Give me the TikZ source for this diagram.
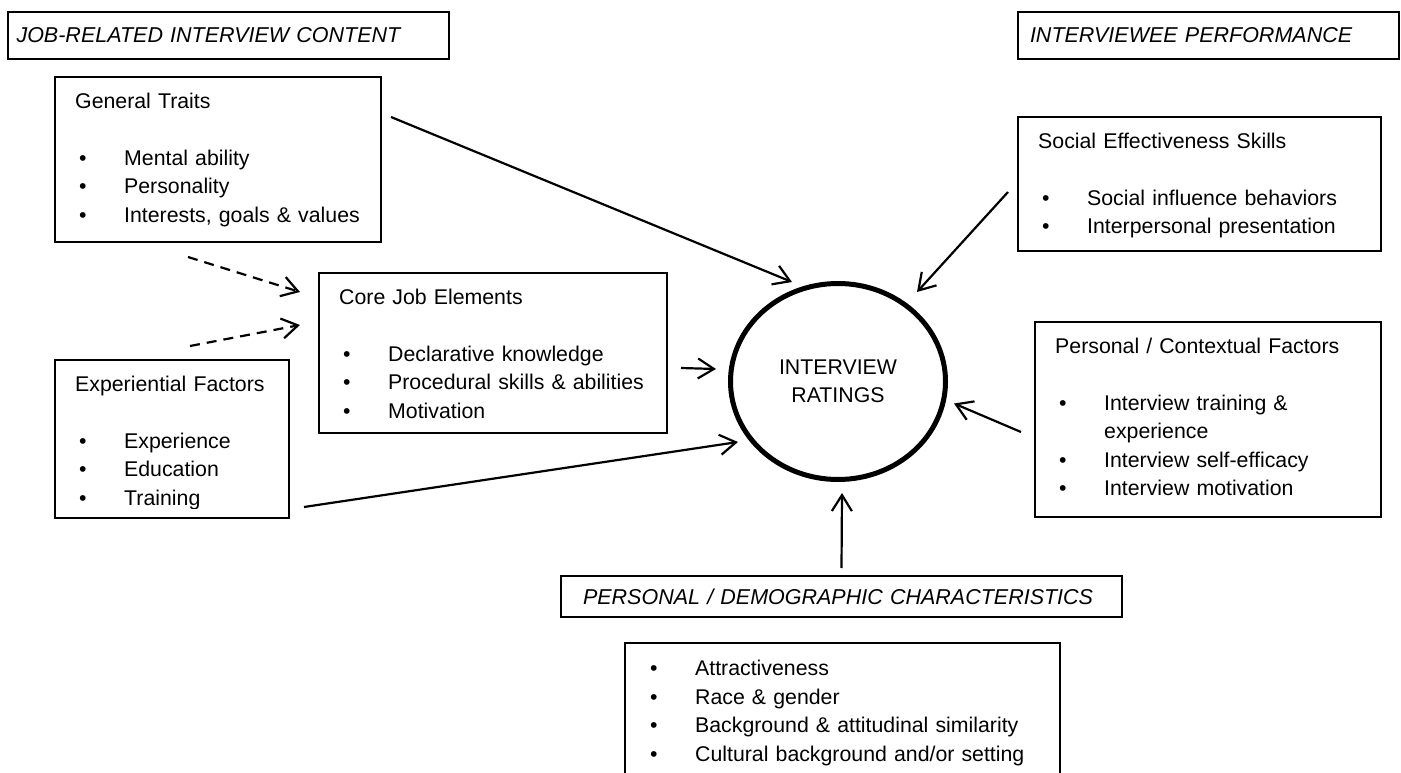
\documentclass[tikz,border=0pt]{standalone}
\usepackage{fontspec}
\setmainfont{Liberation Sans}
\usepackage{tikz}
\usetikzlibrary{arrows.meta}
\usetikzlibrary{shapes.geometric}
\tikzset{>={Straight Barb[length=16pt,width=20pt]}}
\newcommand\bul[1]{\makebox[49pt][l]{\hspace{4pt}\textbullet}#1}

\begin{document}
\begin{tikzpicture}[x=1pt, y=-1pt,
  every node/.style={font=\fontsize{21.3pt}{28.5pt}\selectfont},
  box/.style={draw, line width=\BOXLINE, rectangle, anchor=north west, inner sep=0pt, outer sep=0pt},
  hdr/.style={box, align=left, inner ysep=0pt, minimum height=47pt,
    font=\fontsize{21.5pt}{28.5pt}\selectfont\itshape},
  itemtext/.style={anchor=north west, inner sep=0pt, align=left, text width=#1},
  conn/.style={->, line width=\ARROWLINE},
  dconn/.style={conn, dash pattern=on 10pt off 7pt},
  rating/.style={ellipse, draw, line width=5pt, minimum width=215pt, minimum height=196pt,
    inner sep=0pt, align=center}]

\newcommand\BOXLINE{1.2pt}
\newcommand\ARROWLINE{2.2pt}

\clip (0,0) rectangle (1401,773);

%% headings
\node[hdr, inner xsep=8.5pt, text width=424pt] (jobhdr) at (8,12) {JOB-RELATED INTERVIEW CONTENT};
\node[hdr, inner xsep=12pt, text width=357pt] (perfhdr) at (1018,12) {INTERVIEWEE PERFORMANCE};
\node[hdr, inner xsep=22pt, text width=517pt, minimum height=41pt] (demohdr) at (561,576)
{PERSONAL / DEMOGRAPHIC CHARACTERISTICS};

%% general traits
\node[box, minimum width=326pt, minimum height=165pt] (traits) at (55,77) {};
\node[itemtext=300pt] (traits-txt) at ([shift={(20,11)}]traits.north west)
{\strut General Traits\\[28.5pt]
\bul{Mental ability}\\
\bul{Personality}\\
\bul{Interests, goals \& values}};

%% experiential factors (last line cut off by the text frame)
\node[box, minimum width=234pt, minimum height=158pt] (expf) at (55,360) {};
\begin{scope}
\clip (expf.north west) rectangle ([shift={(0,-10)}]expf.south east);
\node[itemtext=210pt] (expf-txt) at ([shift={(20,11)}]expf.north west)
{\strut Experiential Factors\\[28.5pt]
\bul{Experience}\\
\bul{Education}\\
\bul{Training}};
\end{scope}

%% core job elements
\node[box, minimum width=348pt, minimum height=160pt] (core) at (319,273) {};
\node[itemtext=320pt] (core-txt) at ([shift={(20,11)}]core.north west)
{\strut Core Job Elements\\[28.5pt]
\bul{Declarative knowledge}\\
\bul{Procedural skills \& abilities}\\
\bul{Motivation}};

%% social effectiveness
\node[box, minimum width=363pt, minimum height=134pt] (social) at (1018,117) {};
\node[itemtext=335pt] (social-txt) at ([shift={(20,11)}]social.north west)
{\strut Social Effectiveness Skills\\[28.5pt]
\bul{Social influence behaviors}\\
\bul{Interpersonal presentation}};

%% personal / contextual
\node[box, minimum width=346pt, minimum height=195pt] (context) at (1035,322) {};
\node[itemtext=320pt] (context-txt) at ([shift={(20,11)}]context.north west)
{\strut Personal / Contextual Factors\\[28.5pt]
\bul{Interview training \&}\\
\hspace*{49pt}experience\\
\bul{Interview self-efficacy}\\
\bul{Interview motivation}};

%% demographic characteristics
\node[box, minimum width=435pt, minimum height=200pt] (demo) at (625,643) {};
\node[itemtext=410pt] (demo-txt) at ([shift={(21,12.6)}]demo.north west)
{\strut\bul{Attractiveness}\\
\bul{Race \& gender}\\
\bul{Background \& attitudinal similarity}\\
\bul{Cultural background and/or setting}};

%% ratings
\node[rating] (rating) at (838,381.5) {INTERVIEW\\RATINGS};

%% arrows
\draw[dconn] ([shift={(133,15)}]traits.south west) -- ([shift={(-19,19)}]core.north west);
\draw[dconn] ([shift={(135,-14)}]expf.north west) -- ([shift={(-19,52)}]core.north west);
\draw[conn] ([shift={(10,40)}]traits.north east) -- ([shift={(-46,-99.5)}]rating.center);
\draw[conn] ([shift={(14,95)}]core.north east) -- ([shift={(-122,-12.5)}]rating.center);
\draw[conn] ([shift={(15,-11)}]expf.south east) -- ([shift={(-100,60.5)}]rating.center);
\draw[conn] ([shift={(-10,75)}]social.north west) -- ([shift={(79,-89.5)}]rating.center);
\draw[conn] ([shift={(-14,110)}]context.north west) -- ([shift={(116,22)}]rating.center);
\draw[conn] ([shift={(0,-8)}]demohdr.north) -- ([shift={(4,111.5)}]rating.center);
\end{tikzpicture}
\end{document}
